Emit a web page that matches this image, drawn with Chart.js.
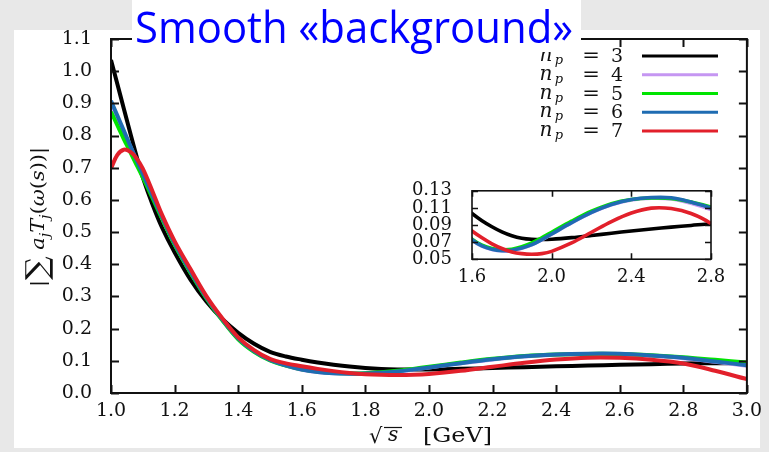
<!DOCTYPE html>
<html><head><meta charset="utf-8">
<script src="https://cdn.jsdelivr.net/npm/chart.js@4/dist/chart.umd.min.js"></script>
<style>
html,body{margin:0;padding:0;background:#e8e8e8;}
#wrap{position:relative;width:769px;height:452px;overflow:hidden;}
#main{position:absolute;left:0;top:0;}
#inset{position:absolute;left:380px;top:160px;}
</style></head><body>
<div id="wrap"><canvas id="main" width="769" height="452"></canvas><canvas id="inset" width="389" height="130"></canvas></div>
<script>
// ---------------- data ----------------
const titleText = 'Smooth «background»';
const npValues = [3, 4, 5, 6, 7];
const xs = [1.00,1.02,1.04,1.06,1.08,1.10,1.13,1.16,1.20,1.25,1.30,1.35,1.40,1.45,1.50,1.55,1.60,1.65,1.70,1.75,1.80,1.85,1.90,1.95,2.00,2.10,2.20,2.30,2.40,2.50,2.60,2.70,2.80,2.90,3.00];
const np3 = [1.035,0.960,0.885,0.810,0.737,0.670,0.587,0.515,0.437,0.352,0.284,0.230,0.187,0.153,0.128,0.1135,0.1035,0.0950,0.0880,0.0820,0.0775,0.0746,0.0733,0.0730,0.0733,0.0752,0.0777,0.0804,0.0830,0.0853,0.0875,0.0895,0.0915,0.0925,0.0930];
const np4 = [0.902,0.857,0.812,0.767,0.723,0.680,0.614,0.548,0.465,0.377,0.296,0.228,0.169,0.129,0.1025,0.0855,0.0725,0.0652,0.0614,0.0598,0.0603,0.0628,0.0668,0.0727,0.0793,0.0925,0.1044,0.1136,0.1192,0.1212,0.1205,0.1155,0.1080,0.0970,0.0850];
const np5 = [0.874,0.832,0.790,0.750,0.710,0.670,0.607,0.543,0.461,0.374,0.294,0.226,0.167,0.128,0.101,0.085,0.0735,0.0665,0.0625,0.0610,0.0615,0.0645,0.0690,0.0750,0.0815,0.0945,0.1062,0.1150,0.1198,0.1215,0.1210,0.1170,0.1110,0.1030,0.0950];
const np6 = [0.908,0.862,0.816,0.770,0.725,0.681,0.615,0.549,0.466,0.378,0.297,0.229,0.170,0.130,0.103,0.086,0.0730,0.0655,0.0616,0.0600,0.0605,0.0630,0.0670,0.0729,0.0795,0.0927,0.1047,0.1140,0.1198,0.1221,0.1218,0.1168,0.1098,0.0980,0.0860];
const np7 = [0.698,0.740,0.756,0.750,0.730,0.697,0.628,0.555,0.472,0.385,0.301,0.232,0.173,0.133,0.106,0.092,0.0830,0.0750,0.0680,0.0625,0.0585,0.0565,0.0558,0.0565,0.0592,0.0690,0.0815,0.0940,0.1040,0.1097,0.1092,0.1035,0.0915,0.0690,0.0430];
const seriesValues = [np3, np4, np5, np6, np7];
const xTicks = [1.0,1.2,1.4,1.6,1.8,2.0,2.2,2.4,2.6,2.8,3.0];
const yTicks = [0.0,0.1,0.2,0.3,0.4,0.5,0.6,0.7,0.8,0.9,1.0,1.1];
const insetXTicks = [1.6,2.0,2.4,2.8];
const insetYTicks = [0.05,0.07,0.09,0.11,0.13];

// ---------------- styles ----------------
const seriesColors = ['#000000','#c596f2','#00e400','#1f6cb2','#e2202b'];
const SERIF = '"DejaVu Serif", "Liberation Serif", serif';

function makeDatasets(width){
  return npValues.map((v,i)=>({
    label: 'n_p = ' + v,
    data: xs.map((x,k)=>({x:x, y:seriesValues[i][k]})),
    borderColor: seriesColors[i],
    backgroundColor: seriesColors[i],
    borderWidth: width,
    pointRadius: 0,
    tension: 0.35,
    fill: false,
    order: npValues.length - i
  }));
}

function drawTicks(c, chart, len){
  const a = chart.chartArea, sx = chart.scales.x, sy = chart.scales.y;
  c.beginPath();
  sx.ticks.forEach(t=>{const p=Math.round(sx.getPixelForValue(t.value))+0.5;
    c.moveTo(p,a.bottom); c.lineTo(p,a.bottom-len); c.moveTo(p,a.top); c.lineTo(p,a.top+len);});
  sy.ticks.forEach(t=>{const p=Math.round(sy.getPixelForValue(t.value))+0.5;
    c.moveTo(a.left,p); c.lineTo(a.left+len,p); c.moveTo(a.right,p); c.lineTo(a.right-len,p);});
  c.stroke();
  c.strokeRect(a.left, a.top, a.right-a.left, a.bottom-a.top);
}

function richWidth(c, pieces){ let w=0; pieces.forEach(p=>{c.font=p[1]; w+=c.measureText(p[0]).width;}); return w; }
function drawRich(c, pieces, x0, y0){ let x=x0; pieces.forEach(p=>{c.font=p[1]; c.fillText(p[0], x, y0+p[2]); x+=c.measureText(p[0]).width;}); return x; }
function fitText(c, text, font, x, y, width){
  c.font = font; const w = c.measureText(text).width;
  c.save(); c.translate(x, y); c.scale(width/w, 1); c.fillText(text, 0, 0); c.restore();
}

const mainDecor = {
  id:'mainDecor',
  beforeDraw(chart){
    const c = chart.ctx;
    c.save();
    c.fillStyle = '#e8e8e8'; c.fillRect(0,0,769,452);
    c.fillStyle = '#ffffff'; c.fillRect(14,30,746,418);
    c.restore();
  },
  afterDraw(chart){
    const c = chart.ctx;
    c.save();
    c.strokeStyle = '#111'; c.lineWidth = 2;
    drawTicks(c, chart, 8);

    // legend (text left, sample line right)
    c.fillStyle = '#111'; c.textBaseline = 'alphabetic';
    chart.data.datasets.forEach((ds,i)=>{
      const y = 56 + i*18.75;
      const xr = 623;
      c.textAlign = 'right'; c.font = '19px ' + SERIF; c.fillText(String(npValues[i]), xr, y+6);
      c.textAlign = 'center'; c.font = '21px ' + SERIF; c.fillText('=', xr-32, y+6);
      c.font = 'italic 13px ' + SERIF; c.fillText('p', xr-64, y+8);
      c.font = 'italic 20px ' + SERIF; c.fillText('n', xr-77, y+5);
      c.strokeStyle = ds.borderColor; c.lineWidth = 3;
      c.beginPath(); c.moveTo(642, y); c.lineTo(718, y); c.stroke();
    });

    // y-axis title (rotated)
    c.textAlign = 'left'; c.fillStyle = '#111';
    const up = '19px ' + SERIF, it = 'italic 19px ' + SERIF, sub = 'italic 13px ' + SERIF;
    const yl = [['|',up,0],['∑','30px '+SERIF,3],[' ',up,0],['a',it,0],['j',sub,5],['T',it,0],['j',sub,5],['(',up,0],['ω',it,0],['(',up,0],['s',it,0],['))',up,0],['|',up,0]];
    c.save();
    c.translate(44, 217); c.rotate(-Math.PI/2);
    const w = richWidth(c, yl); const k = 140 / w;
    c.scale(k, 1);
    drawRich(c, yl, -w/2, 0);
    c.restore();

    // x-axis title
    c.font = '21px ' + SERIF; c.fillText('√', 369, 443);
    c.font = 'italic 20px ' + SERIF; c.fillText('s', 388, 441);
    c.lineWidth = 1.2; c.strokeStyle = '#111';
    c.beginPath(); c.moveTo(384, 427.5); c.lineTo(402, 427.5); c.stroke();
    fitText(c, '[GeV]', '20px ' + SERIF, 423, 442, 69);

    // title box + title
    c.fillStyle = '#ffffff'; c.fillRect(132, 0, 449, 52);
    c.fillStyle = '#0000ff';
    fitText(c, titleText, '43px "Open Sans", "Noto Sans", sans-serif', 135, 43, 438);
    c.restore();
  }
};

const insetDecor = {
  id:'insetDecor',
  afterDraw(chart){
    const c = chart.ctx;
    c.save(); c.strokeStyle = '#111'; c.lineWidth = 1.6;
    drawTicks(c, chart, 6);
    c.restore();
  }
};

function axis(ticksArr, min, max, fixed, size, pad, fontSize, isX){
  return {
    type:'linear', min:min, max:max,
    position: isX ? 'bottom' : 'left',
    grid:{display:false, drawTicks:false},
    border:{display:false},
    afterBuildTicks:(s)=>{ s.ticks = ticksArr.map(v=>({value:v})); },
    afterFit:(s)=>{ if(isX) s.height = size; else s.width = size; },
    ticks:{ autoSkip:false, maxRotation:0, minRotation:0, padding:pad, color:'#111',
      font:{family:SERIF, size:fontSize},
      callback:(v)=>Number(v).toFixed(fixed) }
  };
}

new Chart(document.getElementById('main'), {
  type:'line',
  data:{ datasets: makeDatasets(4) },
  options:{
    responsive:false, animation:false, devicePixelRatio:1,
    layout:{ padding:{left:0, top:39, right:18, bottom:0} },
    plugins:{ legend:{display:false}, tooltip:{enabled:false}, title:{display:false} },
    scales:{
      x: axis(xTicks, 1.0, 3.0, 1, 59, 7, 19, true),
      y: axis(yTicks, 0.0, 1.1, 1, 111, 19, 19, false)
    }
  },
  plugins:[mainDecor]
});

new Chart(document.getElementById('inset'), {
  type:'line',
  data:{ datasets: makeDatasets(3.6) },
  options:{
    responsive:false, animation:false, devicePixelRatio:1,
    layout:{ padding:{left:0, top:27, right:58, bottom:0} },
    plugins:{ legend:{display:false}, tooltip:{enabled:false}, title:{display:false} },
    scales:{
      x: axis(insetXTicks, 1.6, 2.8, 1, 30, 7, 18, true),
      y: axis(insetYTicks, 0.05, 0.13, 2, 92, 20, 18, false)
    }
  },
  plugins:[insetDecor]
});
</script>
</body></html>
